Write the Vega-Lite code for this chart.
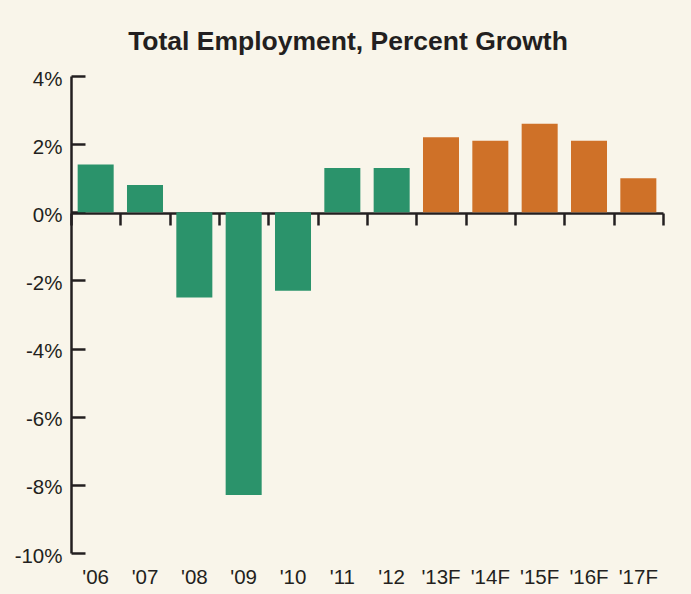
{
  "$schema": "https://vega.github.io/schema/vega-lite/v6.json",
  "autosize": {"type": "none"},
  "width": 592,
  "height": 477,
  "padding": {"left": 71, "top": 76, "right": 28, "bottom": 41},
  "background": "#f9f5ea",
  "config": {
    "view": {"stroke": null},
    "font": "Liberation Sans"
  },
  "title": {
    "text": "Total Employment, Percent Growth",
    "fontSize": 26.5,
    "fontWeight": "bold",
    "color": "#231f20",
    "anchor": "middle",
    "frame": "group",
    "dx": -19,
    "baseline": "alphabetic",
    "offset": -7
  },
  "data": {
    "values": [
      {"year": "'06", "growth": 1.4, "type": "actual"},
      {"year": "'07", "growth": 0.8, "type": "actual"},
      {"year": "'08", "growth": -2.5, "type": "actual"},
      {"year": "'09", "growth": -8.3, "type": "actual"},
      {"year": "'10", "growth": -2.3, "type": "actual"},
      {"year": "'11", "growth": 1.3, "type": "actual"},
      {"year": "'12", "growth": 1.3, "type": "actual"},
      {"year": "'13F", "growth": 2.2, "type": "forecast"},
      {"year": "'14F", "growth": 2.1, "type": "forecast"},
      {"year": "'15F", "growth": 2.6, "type": "forecast"},
      {"year": "'16F", "growth": 2.1, "type": "forecast"},
      {"year": "'17F", "growth": 1.0, "type": "forecast"}
    ]
  },
  "encoding": {
    "x": {
      "field": "year",
      "type": "nominal",
      "sort": null,
      "scale": {"paddingInner": 0, "paddingOuter": 0}
    },
    "y": {
      "field": "growth",
      "type": "quantitative",
      "scale": {"domain": [-10, 4], "nice": false, "zero": false},
      "axis": {
        "title": null,
        "values": [-10, -8, -6, -4, -2, 0, 2, 4],
        "labelExpr": "datum.value + '%'",
        "labelFontSize": 20.5,
        "labelColor": "#231f20",
        "labelPadding": 23,
        "labelOffset": 3,
        "domainColor": "#231f20",
        "domainWidth": 2.5,
        "tickColor": "#231f20",
        "tickWidth": 2.5,
        "tickSize": -14,
        "grid": false
      }
    },
    "color": {
      "field": "type",
      "type": "nominal",
      "scale": {"domain": ["actual", "forecast"], "range": ["#2b936b", "#cf7128"]},
      "legend": null
    }
  },
  "layer": [
    {
      "mark": {"type": "bar", "width": {"band": 0.73}},
      "encoding": {
        "x": {
          "field": "year",
          "type": "nominal",
          "sort": null,
          "axis": {
            "title": null,
            "orient": "bottom",
            "domain": false,
            "ticks": false,
            "labelAngle": 0,
            "labelFontSize": 20.5,
            "labelColor": "#231f20",
            "labelPadding": 14
          }
        }
      }
    },
    {
      "mark": {"type": "bar", "opacity": 0, "width": {"band": 0.73}},
      "encoding": {
        "x": {
          "field": "year",
          "type": "nominal",
          "sort": null,
          "axis": {
            "title": null,
            "orient": "bottom",
            "offset": -340,
            "labels": false,
            "domainColor": "#231f20",
            "domainWidth": 2.5,
            "tickColor": "#231f20",
            "tickWidth": 2.5,
            "tickSize": 12,
            "tickBand": "extent"
          }
        }
      }
    }
  ],
  "resolve": {"axis": {"x": "independent"}}
}
